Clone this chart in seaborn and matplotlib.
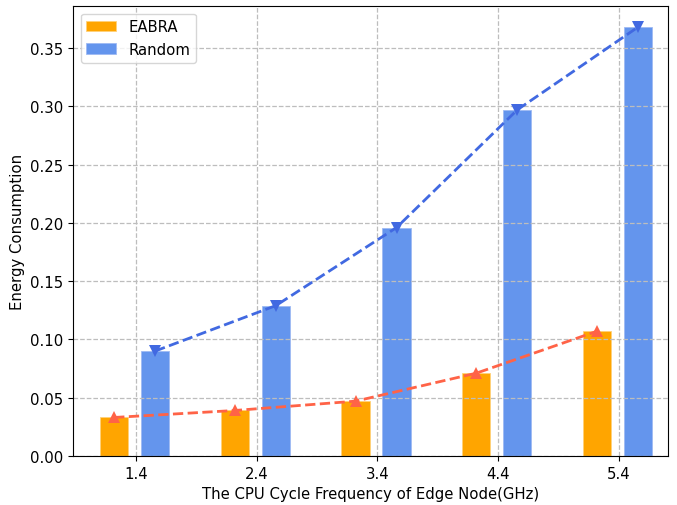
import pandas as pd
import numpy as np
import matplotlib
matplotlib.use('Agg')
import matplotlib.pyplot as plt
import seaborn as sns

plt.rcParams['font.size'] = 10.7

# CPU cycle frequency of the edge node (GHz)
freqs = [1.4, 2.4, 3.4, 4.4, 5.4]
tick_labels = ['1.4', '2.4', '3.4', '4.4', '5.4']

# energy consumption
eabra = [0.033, 0.039, 0.047, 0.071, 0.107]
random_alloc = [0.090, 0.129, 0.196, 0.297, 0.368]

# side-by-side offsets of the two bars around each frequency
off_eabra = -0.18
off_random = 0.16

df_e = pd.DataFrame({'freq': np.array(freqs) + off_eabra, 'energy': eabra})
df_r = pd.DataFrame({'freq': np.array(freqs) + off_random, 'energy': random_alloc})

fig = plt.figure(figsize=(6.77, 5.06), dpi=100)
ax = fig.add_axes([0.108, 0.097, 0.879, 0.889])

sns.barplot(data=df_e, x='freq', y='energy', native_scale=True, width=0.235,
            color='orange', saturation=1, label='EABRA', ax=ax,
            edgecolor='#ffd27a', linewidth=0.6)
sns.barplot(data=df_r, x='freq', y='energy', native_scale=True, width=0.235,
            color='cornflowerblue', saturation=1, label='Random', ax=ax,
            edgecolor='#9fbaf3', linewidth=0.6)

# dashed trend lines through the bar tops
sns.lineplot(data=df_e, x='freq', y='energy', color='tomato', linestyle='--',
             linewidth=2, marker='^', markersize=8, markeredgewidth=0,
             legend=False, ax=ax)
sns.lineplot(data=df_r, x='freq', y='energy', color='royalblue', linestyle='--',
             linewidth=2, marker='v', markersize=8, markeredgewidth=0,
             legend=False, ax=ax)

ax.set_xlim(0.88, 5.81)
ax.set_ylim(0, 0.386)
ax.set_xticks(freqs)
ax.set_xticklabels(tick_labels)
ax.set_yticks(np.arange(0, 0.351, 0.05))
ax.set_yticklabels([f'{v:.2f}' for v in np.arange(0, 0.351, 0.05)])
ax.grid(True, linestyle='--', color='#bdbdbd', linewidth=0.9)
ax.set_xlabel('The CPU Cycle Frequency of Edge Node(GHz)')
ax.set_ylabel('Energy Consumption')
ax.legend(loc='upper left')

fig.savefig('out.png', dpi=100)
